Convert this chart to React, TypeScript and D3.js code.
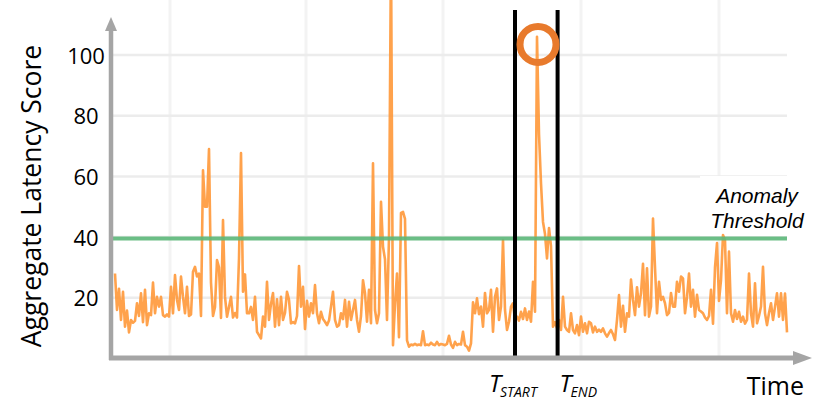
import React, { useRef, useEffect } from 'react';
import * as d3 from 'd3';

// aggregate latency score, one sample per time step
const latencyScores = [
  28, 16, 23, 12.7, 22, 10.5, 15.8, 8.6, 12.7, 11.8,
  12.4, 18.2, 14, 21.5, 12, 22.6, 11, 14.9, 14.3, 25,
  14.9, 20.3, 17.1, 20.3, 14.3, 13.8, 14.5, 13.8, 23.6, 14.9,
  27.5, 19.3, 16, 27, 20.3, 14.9, 23.6, 14, 14.5, 28.6,
  30.2, 27, 28, 14, 62, 50, 50, 69, 25, 14,
  17, 32.4, 30, 13.4, 45.6, 20.3, 13.8, 17, 20.3, 13.5,
  15, 13.5, 33, 67.7, 22, 27.7, 14.9, 14.9, 17, 12.7,
  20.3, 8.8, 7.7, 6.6, 13.8, 10.5, 25.3, 12.7, 18, 21.6,
  10.5, 19.5, 11, 20.3, 12.7, 15, 22, 19.3, 11.6, 12,
  11.6, 14, 30.5, 17.1, 23.6, 9.7, 19, 13.8, 18.2, 14.9,
  24.2, 14.9, 11.6, 15.4, 13, 12.1, 11, 12.5, 17.1, 22,
  12.7, 10.5, 11, 14.9, 13, 19.3, 10.5, 18.7, 12.7, 16,
  19.3, 12.7, 8.8, 14, 25.8, 21.5, 12.1, 22.6, 11.6, 64.3,
  16, 11.6, 14.9, 51.6, 36.8, 32.7, 12.7, 40, 135, 4.4,
  18, 28, 7, 48, 48.3, 46, 6, 3.9, 4.6, 4.4,
  4.8, 4.4, 4.6, 4.4, 9, 4.4, 4.6, 4.4, 5.2, 4.6,
  4.4, 5.5, 4.4, 4.8, 4.6, 4.4, 4.8, 7.5, 4.6, 3.5,
  5.5, 4.4, 4.8, 4.6, 8.8, 4.4, 3.9, 2.6, 5, 18.5,
  14.9, 19.8, 14.6, 17.1, 10.5, 21.6, 14.9, 16, 22.6, 8.8,
  20.3, 23.1, 12.7, 17.1, 39, 16, 9.4, 12.1, 17.1, 18.2,
  12.7, 13.8, 12.5, 15.4, 13, 16.5, 12.7, 15.5, 12.1, 25.3,
  15.4, 106, 74, 57.7, 45, 41, 33, 43, 37, 10.5,
  12, 10, 12.7, 9.4, 20.3, 10.5, 9.4, 8.8, 14.9, 9.4,
  8.3, 11, 7.7, 13.8, 8.8, 11.6, 8.3, 12.1, 11.6, 8.6,
  10.5, 8.8, 9.5, 8.8, 9.9, 8.3, 7.2, 8.4, 9.4, 8,
  6.1, 12.7, 20.9, 10.5, 17.4, 8.8, 14.9, 13.8, 26, 19.3,
  14.3, 23.5, 17.1, 21.5, 31.2, 14.3, 29.7, 13.8, 17.1, 46.1,
  30, 14.9, 25.3, 19.3, 20.3, 18.2, 14.3, 15, 21.6, 17.1,
  17.1, 25.3, 22, 27, 26.4, 14.9, 20.3, 28, 17.1, 22.6,
  13.8, 21, 16, 15.5, 14.9, 13.5, 12.7, 14, 22.6, 11.5,
  30, 38, 19, 25.8, 40.7, 39, 14.9, 35.2, 14.9, 12.1,
  16, 13, 15.4, 12.1, 13.8, 11.5, 12.7, 28, 14.9, 10.5,
  24.8, 11.6, 14, 17.1, 30.2, 14.9, 11, 15, 18.2, 12.7,
  17, 21.5, 13.8, 21.5, 12.7, 21.4, 8.6,
];

const yTicks = [20, 40, 60, 80, 100];
const timeGrid = [27.5, 95.5, 164, 233, 302];
const threshold = 39.5;
const tStart = 200;
const tEnd = 221.3;
const anomalyPeak = { t: 211.5, score: 103.5 };

const W = 830;
const H = 413;

export default function App() {
  const ref = useRef<SVGSVGElement>(null);

  useEffect(() => {
    const svg = d3.select(ref.current);
    svg.selectAll('*').remove();

    const font = '"Open Sans", sans-serif';
    const x = d3.scaleLinear().domain([0, latencyScores.length - 1]).range([115, 787]);
    const y = d3.scaleLinear().domain([0, 100]).range([358.5, 55]);
    const axisX = 111;
    const axisY = 358;

    // faint grid
    svg.append('g').selectAll('line').data(timeGrid).join('line')
      .attr('x1', d => x(d)).attr('x2', d => x(d))
      .attr('y1', 0).attr('y2', axisY)
      .attr('stroke', '#f3f3f3').attr('stroke-width', 3);
    svg.append('g').selectAll('line').data(yTicks).join('line')
      .attr('x1', axisX).attr('x2', 787)
      .attr('y1', d => y(d)).attr('y2', d => y(d))
      .attr('stroke', '#ececec').attr('stroke-width', 2.5);

    // white box behind the threshold label
    svg.append('rect')
      .attr('x', 700).attr('y', 176).attr('width', 112).attr('height', 60)
      .attr('fill', '#fff');

    const line = d3.line<number>()
      .x((d, i) => x(i))
      .y(d => y(d));

    svg.append('path')
      .datum(latencyScores)
      .attr('d', line)
      .attr('fill', 'none')
      .attr('stroke', '#ff9838')
      .attr('stroke-width', 2.6)
      .attr('stroke-linejoin', 'round')
      .attr('opacity', 0.9);

    // threshold
    svg.append('line')
      .attr('x1', axisX).attr('x2', 787)
      .attr('y1', y(threshold)).attr('y2', y(threshold))
      .attr('stroke', '#5cb87a').attr('stroke-width', 4).attr('opacity', 0.9);

    // window markers
    svg.append('g').selectAll('line').data([tStart, tEnd]).join('line')
      .attr('x1', d => x(d)).attr('x2', d => x(d))
      .attr('y1', 10).attr('y2', 356)
      .attr('stroke', '#000').attr('stroke-width', 4);

    svg.append('circle')
      .attr('cx', x(anomalyPeak.t)).attr('cy', y(anomalyPeak.score))
      .attr('r', 18)
      .attr('fill', 'none')
      .attr('stroke', '#e87a2c')
      .attr('stroke-width', 7);

    // axes with arrow heads
    const axisColor = '#a5a5a5';
    svg.append('line')
      .attr('x1', axisX).attr('x2', axisX).attr('y1', 28).attr('y2', axisY + 2)
      .attr('stroke', axisColor).attr('stroke-width', 4.5);
    svg.append('path')
      .attr('d', `M${axisX},17L${axisX - 6},31L${axisX + 6},31Z`)
      .attr('fill', axisColor);
    svg.append('line')
      .attr('x1', axisX - 2).attr('x2', 798).attr('y1', axisY).attr('y2', axisY)
      .attr('stroke', axisColor).attr('stroke-width', 5);
    svg.append('path')
      .attr('d', `M812,${axisY}L793,${axisY - 7}L793,${axisY + 7}Z`)
      .attr('fill', axisColor);

    // tick labels
    svg.append('g').selectAll('text').data(yTicks).join('text')
      .attr('x', 86).attr('y', d => y(d) + 8.5)
      .attr('text-anchor', 'middle')
      .attr('font-family', font).attr('font-size', 22)
      .attr('fill', '#000')
      .text(d => d);

    svg.append('text')
      .attr('transform', 'translate(41,196) rotate(-90)')
      .attr('text-anchor', 'middle')
      .attr('font-family', font).attr('font-size', 26.5)
      .text('Aggregate Latency Score');

    svg.append('text')
      .attr('x', 804).attr('y', 395)
      .attr('text-anchor', 'end')
      .attr('font-family', font).attr('font-size', 25)
      .text('Time');

    const sub = [
      { t: tStart, label: 'START', dx: -26 },
      { t: tEnd, label: 'END', dx: 2 },
    ];
    sub.forEach(s => {
      const txt = svg.append('text')
        .attr('x', x(s.t) + s.dx).attr('y', 392)
        .attr('font-family', font).attr('font-style', 'italic')
        .attr('font-size', 24)
        .text('T');
      txt.append('tspan')
        .attr('font-size', 14).attr('dy', 5).attr('dx', -1)
        .text(s.label);
    });

    const thrFont = '"Liberation Sans", Arial, sans-serif';
    ['Anomaly', 'Threshold'].forEach((word, i) => {
      svg.append('text')
        .attr('x', 757).attr('y', 203 + i * 25)
        .attr('text-anchor', 'middle')
        .attr('font-family', thrFont).attr('font-style', 'italic')
        .attr('font-size', 21)
        .text(word);
    });
  }, []);

  return (
    <svg
      ref={ref}
      width={W}
      height={H}
      style={{ position: 'absolute', left: 0, top: 0, background: '#fff' }}
    />
  );
}
